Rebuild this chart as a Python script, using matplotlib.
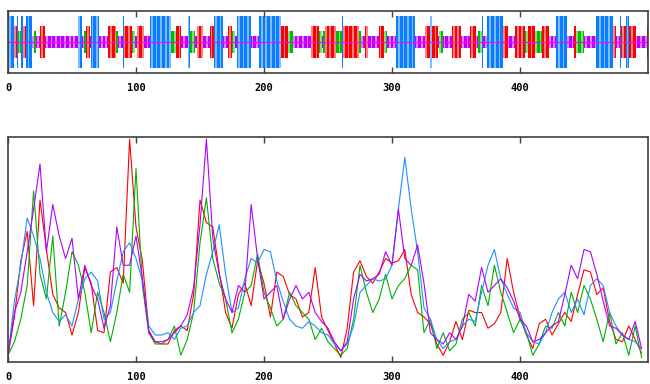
import numpy as np
import matplotlib
matplotlib.use("Agg")
import matplotlib.pyplot as plt

# secondary structure per residue, run-length: (state, count)
# H = helix (blue), E = strand (red), G = turn (green), C = coil (purple)
ss_runs = [("H",5),("E",2),("H",1),("G",2),("H",2),("E",2),("H",5),("C",1),("G",2),("C",3),
           ("E",4),("C",26),("H",3),("C",1),("G",2),("E",3),("C",1),("H",6),("C",7),("E",6),
           ("G",2),("C",4),("H",1),("E",6),("G",2),("C",2),("E",5),("C",5),("H",16),("G",4),
           ("E",4),("C",6),("H",1),("G",4),("C",2),("E",4),("C",6),("E",3),("H",7),("C",4),
           ("E",3),("G",2),("C",2),("H",11),("C",6),("H",17),("E",6),("G",4),("C",14),("E",6),
           ("G",2),("C",1),("G",2),("E",8),("G",5),("H",1),("E",12),("G",2),("C",3),("E",2),
           ("C",9),("E",4),("G",2),("C",7),("H",15),("C",8),("E",4),("H",1),("E",5),("C",1),
           ("G",3),("C",7),("E",7),("C",7),("E",5),("C",1),("G",3),("H",1),("C",3),("H",13),
           ("E",4),("C",5),("E",8),("G",2),("E",6),("G",5),("E",6),("C",5),("H",9),("C",5),
           ("E",2),("G",6),("C",9),("H",14),("E",2),("C",3),("H",1),("E",4),("H",2),("E",6),
           ("C",8),("E",1)]

# profile values, sampled every 5 residues
pos = np.arange(0, 500, 5)
red = [3,20,45,58,25,72,50,30,24,22, 12,22,42,35,14,13,40,42,35,99,
       60,45,14,9,8,8,14,16,14,30, 72,62,60,40,22,15,30,35,25,45,
       35,20,40,38,30,28,20,22,42,20, 14,8,2,15,40,45,38,35,40,46,
       44,45,50,30,22,20,17,8,3,9, 18,10,23,22,22,15,17,22,46,31,
       20,12,6,17,19,12,17,22,18,30, 41,40,30,33,18,10,9,16,10,4]
green = [3,9,19,34,76,39,28,56,16,31, 49,43,31,13,31,22,9,22,39,31,
         86,34,13,8,8,10,16,3,10,22, 53,73,46,35,28,13,19,31,34,48,
         31,24,16,19,31,25,22,19,10,15, 9,6,3,6,19,43,31,22,28,39,
         28,34,37,43,41,13,19,6,13,5, 8,19,22,16,34,25,43,31,22,13,
         19,13,3,8,16,15,22,16,31,22, 34,28,19,9,22,8,13,3,16,2]
blue = [3,27,43,64,56,46,31,22,18,21, 16,28,37,40,36,19,22,36,49,53,
        46,36,16,12,12,13,10,15,16,22, 25,39,49,61,39,22,24,37,46,44,
        50,49,36,27,19,16,15,18,16,13, 12,8,5,8,16,31,34,37,36,37,
        43,68,91,68,49,24,19,10,6,9, 10,16,19,18,31,43,50,37,30,24,
        22,13,9,8,13,22,28,31,22,28, 21,34,37,34,22,16,12,10,9,6]
purple = [3,22,31,49,68,88,49,70,56,46, 55,28,43,34,28,15,25,60,43,43,
          56,37,13,9,9,10,13,16,21,33, 61,99,55,39,28,22,34,31,70,46,
          28,31,34,19,28,34,28,31,22,18, 15,9,5,9,28,39,36,37,39,49,
          43,68,46,43,52,35,13,10,8,13, 10,16,30,27,42,31,34,37,33,27,
          19,16,9,10,13,16,18,30,43,37, 50,49,39,27,16,15,12,10,18,6]

xtick_vals = [0, 100, 200, 300, 400]

ss_color = {"H": "#0a7cff", "E": "#ff0000", "G": "#00bb00", "C": "#bb00ff"}
ss_light = {"H": "#7dbcff", "E": "#ff8080", "G": "#80dd80", "C": "#dd80ff"}
ss_half = {"H": 0.85, "E": 0.53, "G": 0.34, "C": 0.2}

fig = plt.figure(figsize=(6.5, 3.84), dpi=100)
ax1 = fig.add_axes([8/650, 1-73/384, 640/650, 62/384])
ax2 = fig.add_axes([8/650, 1-362/384, 640/650, 225/384])

start = 0
for state, n in ss_runs:
    xs = np.arange(start, start + n)
    h = ss_half[state]
    ax1.bar(xs, 2*h, bottom=-h, width=1.0, align="edge",
            color=ss_light[state], linewidth=0)
    ax1.bar(xs + 0.5, 2*h, bottom=-h, width=0.6, align="center",
            color=ss_color[state], linewidth=0)
    start += n
ax1.axhline(0, color="#ff00ff", lw=0.8)
ax1.set_ylim(-1, 1)

ax2.plot(pos, red, color="#ff0000", lw=0.8)
ax2.plot(pos, green, color="#00b000", lw=0.8)
ax2.plot(pos, blue, color="#1e8fff", lw=0.8)
ax2.plot(pos, purple, color="#b000ff", lw=0.8)
ax2.set_ylim(0, 100)

for ax in [ax1, ax2]:
    ax.set_xlim(0, 500)
    ax.set_yticks([])
    ax.set_xticks(xtick_vals)
    ax.set_xticklabels([str(v) for v in xtick_vals], fontweight="bold",
                       family="DejaVu Sans Mono", fontsize=7.5)
    ax.tick_params(axis="x", direction="in", top=True, bottom=True,
                   length=4, width=1, color="#404040", pad=7)
    for s in ax.spines.values():
        s.set_color("#404040")
        s.set_linewidth(1.2)

fig.savefig("out.png", dpi=100)
